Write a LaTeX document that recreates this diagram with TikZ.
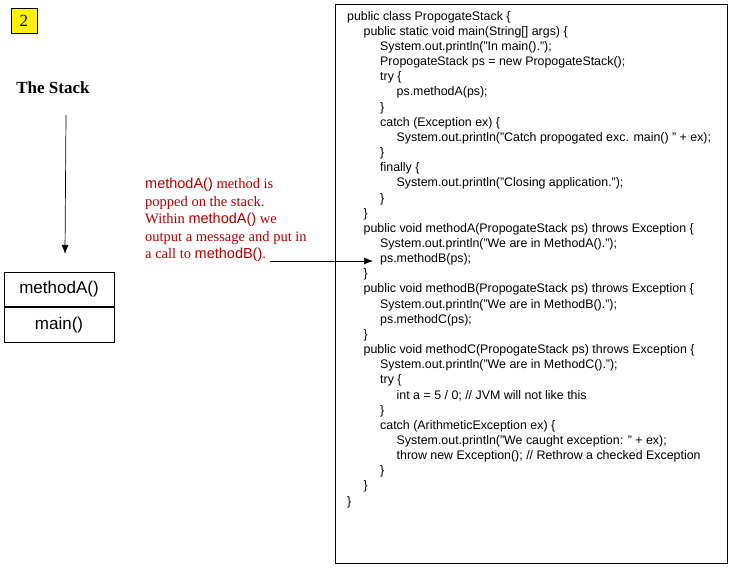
\documentclass[tikz,border=0pt]{standalone}
\usepackage{fontspec}
\setmainfont{Liberation Serif}
\setsansfont{Liberation Sans}
\usetikzlibrary{calc,arrows.meta}
\tikzset{>={Latex[length=9pt,width=7pt]},
  frame/.style={draw, line width=0.7pt},
  stackbox/.style={draw, line width=0.7pt, minimum width=110pt, minimum height=34.5pt,
    font={\sffamily\fontsize{17}{19}\selectfont}},
  codeline/.style={anchor=west, inner sep=0pt, font={\sffamily\fontsize{12.4}{14}\selectfont}},
  note/.style={text=red!70!black, align=left, anchor=north west, inner sep=0pt,
    font={\fontsize{14.5}{17.5}\selectfont}},
}
\newcommand\snf[1]{{\sffamily #1}}
\begin{document}
\begin{tikzpicture}[x=1pt,y=-1pt]
    \useasboundingbox (0,0) rectangle (730,568);
    \node [draw, fill=yellow, minimum width=26pt, minimum height=25pt, inner sep=0pt,
      font=\fontsize{17}{19}\selectfont] (num) at (24,20.5) {2};
    \node [font=\bfseries\fontsize{17}{19}\selectfont] (title) at (53,88) {The Stack};
    \coordinate (drop) at (66,115);
    \node [stackbox] (top) at (59,289.5) {methodA()};
    \node [stackbox, anchor=north] (bottom) at (top.south) {main()};
    \draw [->, line width=0.7pt] (drop) -- ($(top.north)+(6,-18)$) coordinate (droptip);

    % code listing
    \draw [frame] (335,4) rectangle (727,563);
    \foreach [count=\i] \l/\t in {
      {0/{public class PropogateStack \{}},
      {1/{public static void main(String[] args) \{}},
      {2/{System.out.println("In main().");}},
      {2/{PropogateStack ps = new PropogateStack();}},
      {2/{try \{}},
      {3/{ps.methodA(ps);}},
      {2/{\}}},
      {2/{catch (Exception ex) \{}},
      {3/{System.out.println("Catch propogated exc. main() " + ex);}},
      {2/{\}}},
      {2/{finally \{}},
      {3/{System.out.println("Closing application.");}},
      {2/{\}}},
      {1/{\}}},
      {1/{public void methodA(PropogateStack ps) throws Exception \{}},
      {2/{System.out.println("We are in MethodA().");}},
      {2/{ps.methodB(ps);}},
      {1/{\}}},
      {1/{public void methodB(PropogateStack ps) throws Exception \{}},
      {2/{System.out.println("We are in MethodB().");}},
      {2/{ps.methodC(ps);}},
      {1/{\}}},
      {1/{public void methodC(PropogateStack ps) throws Exception \{}},
      {2/{System.out.println("We are in MethodC().");}},
      {2/{try \{}},
      {3/{int a = 5 / 0; // JVM will not like this}},
      {2/{\}}},
      {2/{catch (ArithmeticException ex) \{}},
      {3/{System.out.println("We caught exception: " + ex);}},
      {3/{throw new Exception(); // Rethrow a checked Exception}},
      {2/{\}}},
      {1/{\}}},
      {0/{\}}}}
      \node [codeline] (L\i) at (347+16.5*\l, 17+15.15*\i-15.15) {\t};

    % callout
    \node [note] (callout) at (145,178) {\snf{methodA()} method is\\popped on the stack.\\Within \snf{methodA()} we\\output a message and put in\\a call to \snf{methodB()}.};
    \coordinate (calloutend) at (270,261);
    \draw [->, line width=0.7pt] (calloutend) -- ([xshift=-7pt]calloutend -| L17.west);
\end{tikzpicture}
\end{document}
